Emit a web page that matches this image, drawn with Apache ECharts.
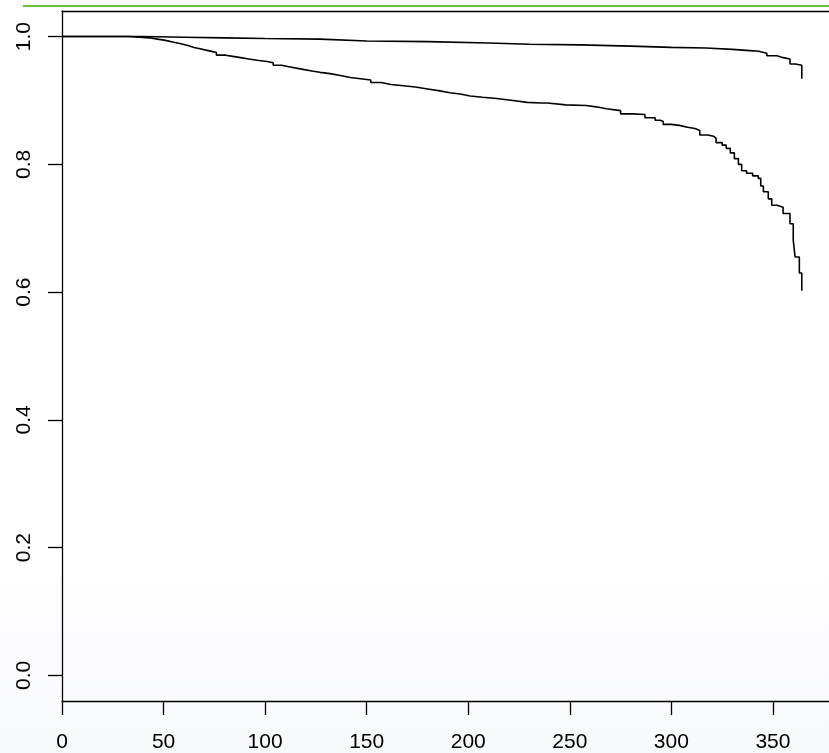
<!DOCTYPE html>
<html>
<head>
<meta charset="utf-8">
<script src="https://cdn.jsdelivr.net/npm/echarts@6/dist/echarts.min.js"></script>
<style>html,body{margin:0;padding:0;background:#fff;}#c{width:829px;height:753px;}</style>
</head>
<body>
<div id="c"></div>
<script>
// Kaplan-Meier style survival curves (time, survival)
var lowerTimes = [0,33,38,43,47,51,55,58,62,65,68,72,76,80,84,88,92,96,101,104,108,113,118,123,127,132,137,142,147,152,157,162,168,174,180,186,191,196,201,207,214,222,229,236,239,248,258,263,268,275,281,287,292,294.5,296,300,304,308,311.6,314,318,320.7,322,325,327,329,331,333,334.6,337,340,342.8,344,345.3,347.7,349.4,352,355,358.4,360,360.9,363,364.2];
var lowerSurv  = [1.0,0.999,0.998,0.996,0.994,0.991,0.989,0.986,0.983,0.981,0.978,0.975,0.971,0.969,0.967,0.965,0.963,0.961,0.959,0.955,0.952,0.949,0.946,0.944,0.942,0.939,0.936,0.934,0.932,0.928,0.925,0.923,0.921,0.918,0.915,0.912,0.910,0.907,0.905,0.903,0.900,0.897,0.896,0.896,0.893,0.892,0.890,0.887,0.884,0.879,0.878,0.873,0.869,0.867,0.8625,0.861,0.858,0.856,0.853,0.846,0.844,0.841,0.834,0.830,0.825,0.818,0.809,0.800,0.790,0.786,0.782,0.778,0.766,0.757,0.746,0.736,0.733,0.723,0.707,0.681,0.655,0.630,0.602];
var upperTimes = [0,35,40,60,80,100,127,150,180,210,230,255,280,300,317,330,338.7,343,347,352,355,358.4,361,364.2];
var upperSurv  = [1.0,1.0,0.999,0.998,0.997,0.996,0.993,0.992,0.990,0.988,0.987,0.985,0.983,0.982,0.980,0.978,0.977,0.974,0.970,0.967,0.965,0.957,0.955,0.934];
var xTicks = [0,50,100,150,200,250,300,350];
var yTicks = [0,0.2,0.4,0.6,0.8,1.0];

function pairs(t, s){ return t.map(function(v,i){ return [v, s[i]]; }); }

var chart = echarts.init(document.getElementById('c'), null, {renderer:'canvas'});
var font = 'Arial';
chart.setOption({
  animation:false,
  backgroundColor:{type:'linear',x:0,y:0,x2:0,y2:1,colorStops:[{offset:0,color:'#ffffff'},{offset:0.72,color:'#ffffff'},{offset:1,color:'#f8f9fd'}]},
  graphic:[{type:'line',shape:{x1:23,y1:6,x2:829,y2:6},style:{stroke:'#6dbe3b',lineWidth:2.2},silent:true}],
  grid:{left:62,top:11,right:0,bottom:51,containLabel:false},
  textStyle:{fontSize:21,fontFamily:font,color:'#000'},
  xAxis:[{
    type:'value',min:0,max:377.6,interval:50,position:'bottom',
    splitLine:{show:false},
    axisLine:{show:true,onZero:false,lineStyle:{color:'#000',width:1.3}},
    axisTick:{show:true,inside:false,length:14,lineStyle:{color:'#000',width:1.3}},
    axisLabel:{show:true,showMaxLabel:false,margin:31,color:'#000',fontSize:21,fontFamily:font,
      formatter:function(v){return xTicks.indexOf(v)>=0 ? String(v) : '';}}
  },{
    type:'value',min:0,max:377.6,position:'top',
    splitLine:{show:false},
    axisLine:{show:true,onZero:false,lineStyle:{color:'#000',width:1.3}},
    axisTick:{show:false},axisLabel:{show:false}
  }],
  yAxis:{
    type:'value',min:-0.04,max:1.04,
    splitLine:{show:false},
    axisLine:{show:true,onZero:false,lineStyle:{color:'#000',width:1.3}},
    axisTick:{show:true,inside:false,length:14,customValues:yTicks,lineStyle:{color:'#000',width:1.3}},
    axisLabel:{show:true,customValues:yTicks,rotate:90,margin:27,color:'#000',fontSize:21,fontFamily:font,
      formatter:function(v){return v.toFixed(1);}}
  },
  series:[
    {type:'line',step:'end',showSymbol:false,symbol:'none',data:pairs(upperTimes,upperSurv),lineStyle:{color:'#000',width:1.6}},
    {type:'line',step:'end',showSymbol:false,symbol:'none',data:pairs(lowerTimes,lowerSurv),lineStyle:{color:'#000',width:1.6}}
  ]
});
</script>
</body>
</html>
